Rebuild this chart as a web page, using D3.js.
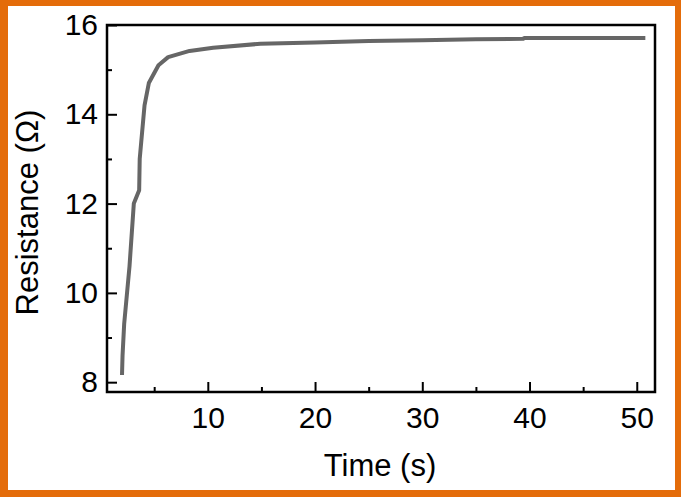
<!DOCTYPE html>
<html lang="en">
<head>
    <meta charset="UTF-8">
    <title>Resistance vs Time</title>
    <script src="https://d3js.org/d3.v7.min.js"></script>
    <style>
        body { margin: 0; background: #fff; }
        svg { display: block; font-family: "Liberation Sans", Arial, sans-serif; }
        .axis path { display: none; }
        .axis line { stroke: #000; stroke-width: 2px; }
        .axis text { font-size: 30px; fill: #000; }
    </style>
</head>
<body>
    <svg width="681" height="497"></svg>

    <script>
        // curve
        const time = [2.0, 2.05, 2.2, 2.7, 3.1, 3.6, 3.65, 4.1, 4.5, 5.4, 6.3, 8.3, 10.5, 14.9, 20, 25, 30, 35, 39.4, 39.5, 45, 50.8];
        const resistance = [8.16, 8.6, 9.3, 10.6, 12.0, 12.3, 13.0, 14.2, 14.7, 15.1, 15.28, 15.42, 15.49, 15.58, 15.61, 15.64, 15.66, 15.68, 15.69, 15.71, 15.71, 15.71];
        const xTicks = [10, 20, 30, 40, 50];
        const xMinor = [5, 15, 25, 35, 45];
        const yTicks = [8, 10, 12, 14, 16];
        const yMinor = [9, 11, 13, 15];

        const svg = d3.select("svg");
        const W = +svg.attr("width"), H = +svg.attr("height");
        const margin = {top: 25, right: 26, bottom: 105, left: 107};
        const width = W - margin.left - margin.right;
        const height = H - margin.top - margin.bottom;

        // orange frame around the whole figure
        svg.append("rect").attr("width", W).attr("height", H).attr("fill", "#E46C0A");
        svg.append("rect").attr("x", 8).attr("y", 6).attr("width", W - 14).attr("height", H - 13).attr("fill", "#fff");

        const g = svg.append("g").attr("transform", `translate(${margin.left},${margin.top})`);

        const x = d3.scaleLinear().domain([0.6, 51.7]).range([0, width]);
        const y = d3.scaleLinear().domain([7.78, 16]).range([height, 0]);

        const data = time.map((t, i) => ({t: t, r: resistance[i]}));

        g.append("path")
            .datum(data)
            .attr("fill", "none")
            .attr("stroke", "#666")
            .attr("stroke-width", 4)
            .attr("stroke-linejoin", "round")
            .attr("d", d3.line().x(d => x(d.t)).y(d => y(d.r)));

        // ticks point inwards
        g.append("g")
            .attr("class", "axis")
            .attr("transform", `translate(0,${height})`)
            .call(d3.axisBottom(x).tickValues(xTicks).tickSize(-10).tickPadding(15));
        g.append("g")
            .attr("class", "axis")
            .attr("transform", `translate(0,${height})`)
            .call(d3.axisBottom(x).tickValues(xMinor).tickSize(-5).tickFormat(""));
        g.append("g")
            .attr("class", "axis")
            .call(d3.axisLeft(y).tickValues(yTicks).tickSize(-10).tickPadding(9));
        g.append("g")
            .attr("class", "axis")
            .call(d3.axisLeft(y).tickValues(yMinor).tickSize(-5).tickFormat(""));

        g.append("rect")
            .attr("width", width).attr("height", height)
            .attr("fill", "none").attr("stroke", "#000").attr("stroke-width", 2.5);

        svg.append("text")
            .attr("x", 380)
            .attr("y", 476)
            .attr("text-anchor", "middle")
            .style("font-size", "31px")
            .text("Time (s)");

        svg.append("text")
            .attr("transform", `translate(38,${margin.top + height / 2 + 4}) rotate(-90)`)
            .attr("text-anchor", "middle")
            .style("font-size", "31px")
            .text("Resistance (Ω)");
    </script>
</body>
</html>
